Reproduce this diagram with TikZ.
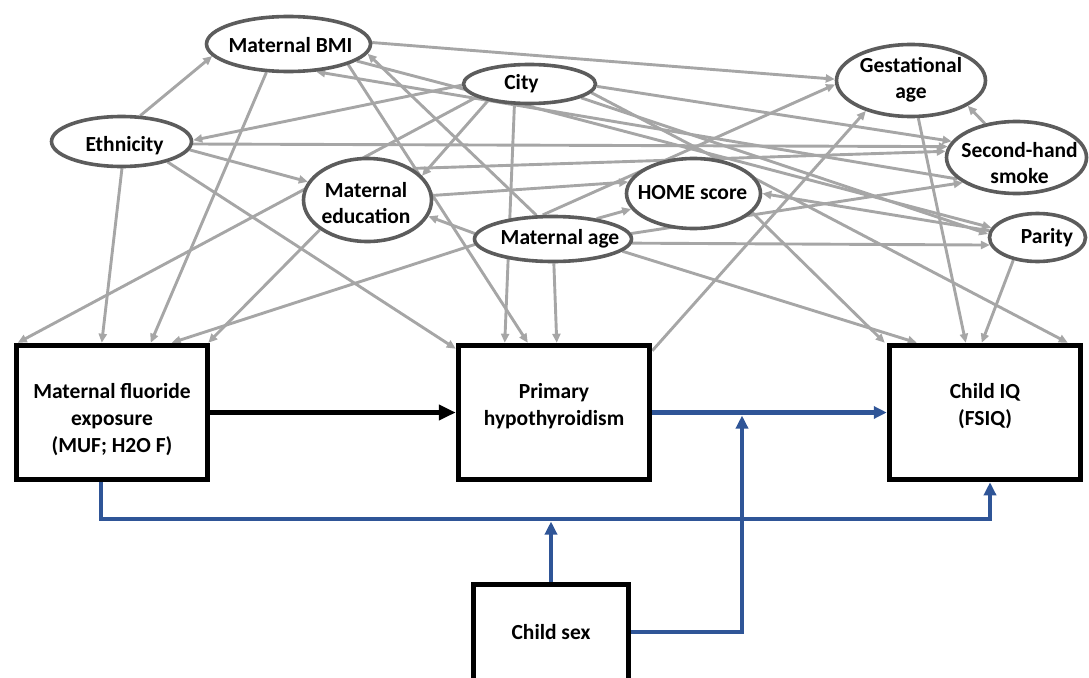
\documentclass[tikz,border=0pt]{standalone}
\usepackage{fontspec}
\setmainfont{Carlito}
\usetikzlibrary{arrows.meta,shapes.geometric}
\pgfdeclarelayer{edges}
\pgfsetlayers{edges,main}
\definecolor{edgegray}{RGB}{166,166,166}
\definecolor{rimgray}{RGB}{92,92,92}
\definecolor{pathblue}{RGB}{47,85,151}

\begin{document}
\begin{tikzpicture}[x=1pt,y=-1pt,
  var/.style={ellipse, draw=rimgray, line width=3.6pt, fill=white, inner sep=0pt},
  txt/.style={align=center, inner sep=0pt, font=\fontsize{21.5}{26}\selectfont\bfseries},
  boxtxt/.style={align=center, inner sep=0pt, font=\fontsize{21.5}{27}\selectfont\bfseries},
  box/.style={rectangle, draw=black, line width=5.5pt, fill=white, inner sep=0pt},
  dag/.style={draw=edgegray, line width=2.9pt, -{Triangle[length=9pt,width=8pt]}},
  mainpath/.style={draw=black, line width=5pt, -{Triangle[length=17pt,width=15pt]}},
  modpath/.style={draw=pathblue, line width=4.5pt, -{Triangle[length=13pt,width=12pt]}},
]
\useasboundingbox (0,0) rectangle (1089,677);

% covariates (ellipses)
\node[var, minimum width=164, minimum height=55] (bmi)    at (288.5,44)    {};
\node[var, minimum width=140, minimum height=50] (eth)    at (121.5,141.5) {};
\node[var, minimum width=132, minimum height=39] (city)   at (529.5,84)    {};
\node[var, minimum width=128, minimum height=83] (edu)    at (367.5,200)   {};
\node[var, minimum width=134, minimum height=70] (home)   at (693.5,193.5) {};
\node[var, minimum width=157, minimum height=45] (age)    at (553,239)     {};
\node[var, minimum width=149, minimum height=72] (gest)   at (911,80.5)    {};
\node[var, minimum width=140, minimum height=72] (smoke)  at (1016.5,157.5){};
\node[var, minimum width=96,  minimum height=48] (parity) at (1037.5,237.5){};

\node[txt] (bmiT)    at (290.5,45)  {Maternal BMI};
\node[txt] (ethT)    at (124.5,146) {Ethnicity};
\node[txt] (cityT)   at (521.5,84)  {City};
\node[txt] (eduT)    at (366,203)   {Maternal\\education};
\node[txt] (homeT)   at (692.5,193) {HOME score};
\node[txt] (ageT)    at (560,239)   {Maternal age};
\node[txt] (gestT)   at (911,80)    {Gestational\\age};
\node[txt] (smokeT)  at (1019.5,163){Second-hand\\smoke};
\node[txt] (parityT) at (1047,238)  {Parity};

% main variables (boxes)
\node[box, minimum width=191, minimum height=134] (fluo) at (112,412.5) {};
\node[box, minimum width=191, minimum height=134] (hypo) at (554,412.5) {};
\node[box, minimum width=191, minimum height=134] (iq)   at (985,412.5) {};
\node[box, minimum width=155, minimum height=200] (sex)  at (551,684.5) {};

\node[boxtxt] (fluoT) at (112,420) {Maternal fluoride\\exposure\\(MUF; H2O F)};
\node[boxtxt] (hypoT) at (554,406.5) {Primary\\hypothyroidism};
\node[boxtxt] (iqT)   at (985,406.5) {Child IQ\\(FSIQ)};
\node[boxtxt] (sexT)  at (551,632) {Child sex};

% covariate arrows, behind the shapes
\begin{pgfonlayer}{edges}
% ethnicity
\draw[dag] (eth.54)  -- (bmi.189);
\draw[dag] (eth.271) -- ([xshift=88]fluo.north west);
\draw[dag] (eth.353) -- (edu.163);
\draw[dag] (eth.336) -- ([yshift=-6]hypo.north west);
\draw[dag] (eth.358) -- (smoke.171);
% city
\draw[dag] (city.181) -- (eth.1);
\draw[dag] (city.194) -- ([xshift=4]fluo.north west);
\draw[dag] (city.202) -- (edu.24);
\draw[dag] (city.234) -- ([xshift=49]hypo.north west);
\draw[dag] (city.352) -- ([xshift=181]iq.north west);
\draw[dag] (city.358) -- (smoke.166);
\draw[dag] (city.345) -- (parity.176);
% maternal BMI
\draw[dag] (bmi.1)   -- (gest.179);
\draw[dag] (bmi.232) -- ([xshift=137]fluo.north west);
\draw[dag] (bmi.341) -- ([xshift=72]hypo.north west);
\draw[dag] (bmi.346) -- (parity.168);
% maternal age
\draw[dag] (age.125) -- (bmi.353);
\draw[dag] (age.113) -- (gest.183);
\draw[dag] (age.184) -- ([xshift=158]fluo.north west);
\draw[dag] (age.176) -- (edu.345);
\draw[dag] (age.272) -- ([xshift=101]hypo.north west);
\draw[dag] (age.25)  -- (home.194);
\draw[dag] (age.4)   -- (smoke.205);
\draw[dag] (age.357) -- (parity.189);
\draw[dag] (age.350) -- ([xshift=30]iq.north west);
% maternal education
\draw[dag] (edu.212) -- ([xshift=-2]fluo.north east);
\draw[dag] (edu.4)   -- (home.170);
\draw[dag] (edu.35)  -- (smoke.175);
% remaining covariates
\draw[dag] (home.342)  -- ([xshift=-2]iq.north west);
\draw[dag] (gest.281)  -- ([xshift=79]iq.north west);
\draw[dag] (smoke.133) -- (gest.336);
\draw[dag] (smoke.200) -- (bmi.315);
\draw[dag] (parity.172) -- (home.0);
\draw[dag] (parity.223) -- ([xshift=95]iq.north west);
\draw[dag] ([yshift=-8]hypo.north east) -- (gest.214);
\end{pgfonlayer}

% exposure -> mediator -> outcome
\draw[mainpath] (fluo.east) -- (hypo.west);
\draw[modpath] (hypo.east) -- (iq.west);

% effect modification by child sex
\coordinate (busL) at (101,519);
\coordinate (busTip) at (0,521.5);
\coordinate (elbow) at (742,632);
\coordinate (midTip) at (0,415.5);
\draw[modpath, line join=miter] (fluo.south -| busL) -- (busL) -| ([xshift=5]iq.south);
\draw[modpath] (sex.north) -- (sex.north |- busTip);
\draw[modpath, line join=miter] (sex.east |- elbow) -- (elbow) -- (elbow |- midTip);
\end{tikzpicture}
\end{document}
